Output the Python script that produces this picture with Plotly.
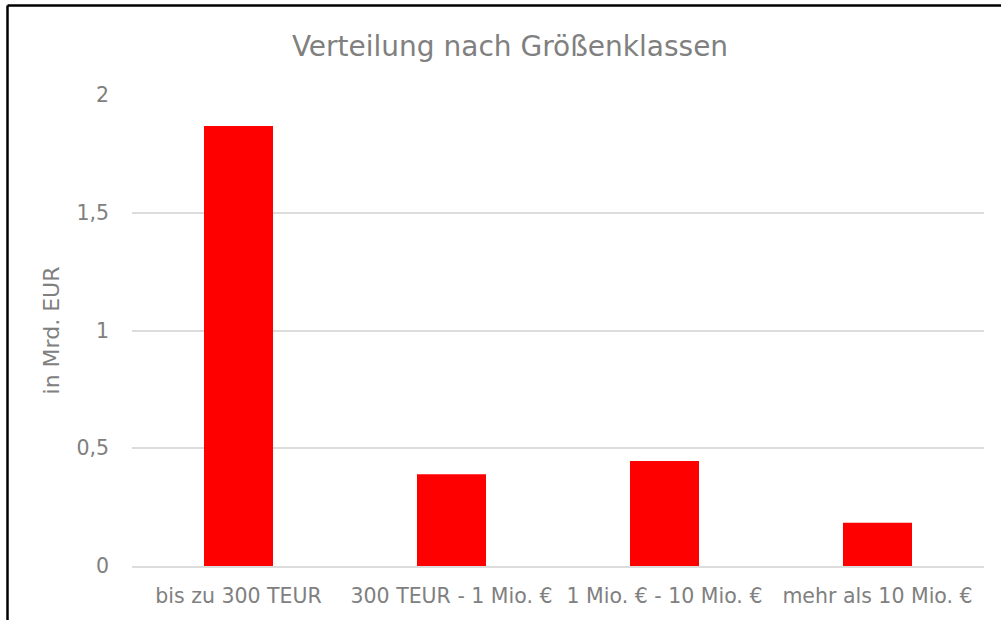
import plotly.graph_objects as go

categories = ["bis zu 300 TEUR", "300 TEUR - 1 Mio. €", "1 Mio. € - 10 Mio. €", "mehr als 10 Mio. €"]
values = [1.868, 0.39, 0.446, 0.184]
y_ticks = [0, 0.5, 1, 1.5, 2]
y_tick_labels = ["0", "0,5", "1", "1,5", "2"]

FONT = "DejaVu Sans"
GREY = "#808080"

fig = go.Figure(go.Bar(x=categories, y=values, marker=dict(color="#FF0000", line=dict(width=0))))

L, R, T, B = 132, 17, 95, 54
W, H = 1001, 620
pw, ph = W - L - R, H - T - B

fig.update_layout(
    width=W, height=H,
    margin=dict(l=L, r=R, t=T, b=B),
    paper_bgcolor="white", plot_bgcolor="white",
    bargap=0.676,
    showlegend=False,
    title=dict(text="Verteilung nach Größenklassen", x=510 / W, xanchor="center",
               y=1 - 46 / H, yanchor="middle", yref="container",
               font=dict(family=FONT, size=28, color=GREY)),
    font=dict(family=FONT, color=GREY),
)
fig.update_xaxes(showgrid=False, showline=True, linecolor="#dcdcdc", linewidth=2,
                 tickangle=0,
                 tickfont=dict(family=FONT, size=20.5, color=GREY), ticks="", ticklabelstandoff=10)
fig.update_yaxes(range=[0, 2], tickvals=y_ticks, ticktext=y_tick_labels,
                 showgrid=True, gridcolor="#dcdcdc", gridwidth=1.5, zeroline=False,
                 tickfont=dict(family=FONT, size=20.5, color=GREY), ticks="", ticklabelstandoff=22,
                 title=dict(text="in Mrd. EUR", font=dict(family=FONT, size=22, color=GREY), standoff=10))

# outer frame (top and left edge visible)
x_left = (7.5 - L) / pw
y_top = (H - B - 5.5) / ph
fig.add_shape(type="line", xref="paper", yref="paper", x0=x_left, x1=(W - L) / pw + 0.01,
              y0=y_top, y1=y_top, line=dict(color="black", width=2.5))
fig.add_shape(type="line", xref="paper", yref="paper", x0=x_left, x1=x_left,
              y0=y_top, y1=-B / ph - 0.02, line=dict(color="black", width=2.5))

fig.write_html("out.html", config={"displayModeBar": False},
               post_script="document.body.style.margin='0';document.body.style.overflow='hidden';")
